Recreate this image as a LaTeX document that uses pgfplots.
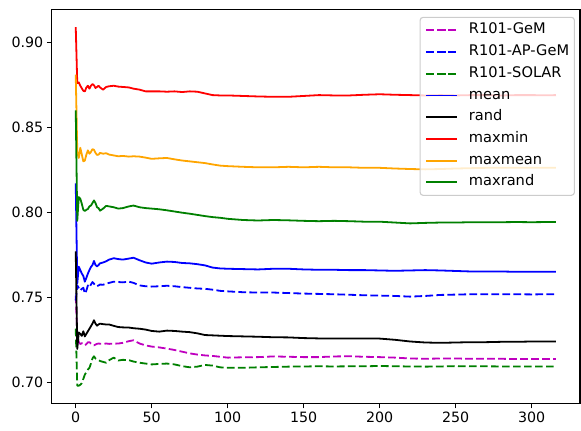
\documentclass[border=0pt]{standalone}
\usepackage{pgfplots}
\pgfplotsset{compat=1.18}
\usepackage{fontspec}
\setmainfont{DejaVu Sans}
\definecolor{mplm}{rgb}{0.75,0,0.75}
\definecolor{mplb}{rgb}{0,0,1}
\definecolor{mplg}{rgb}{0,0.5,0}
\definecolor{mplr}{rgb}{1,0,0}
\definecolor{mplo}{rgb}{1,0.647,0}
\definecolor{legedge}{rgb}{0.8,0.8,0.8}

\pgfplotstableread{
x r o g b bd k m gd
0 0.909 0.881 0.860 0.817 0.748 0.777 0.751 0.7316
1 0.876 0.836 0.795 0.758 0.757 0.7196 0.728 0.698
2 0.8765 0.832 0.809 0.768 0.7555 0.7293 0.7236 0.698
3 0.8745 0.838 0.808 0.766 0.7540 0.7285 0.7225 0.6985
4 0.873 0.834 0.805 0.764 0.7550 0.7273 0.7230 0.6995
5 0.8715 0.830 0.8015 0.7625 0.7556 0.7300 0.7225 0.7020
6 0.8712 0.8305 0.8008 0.7592 0.7522 0.7270 0.7217 0.7045
7 0.8735 0.834 0.8015 0.7615 0.7540 0.7285 0.7225 0.7060
8 0.8745 0.8365 0.802 0.7640 0.7570 0.7300 0.7235 0.7075
9 0.8728 0.8345 0.8035 0.7660 0.7560 0.7315 0.7236 0.7085
10 0.8745 0.8355 0.804 0.7678 0.7575 0.7330 0.7228 0.7110
11 0.8755 0.8372 0.8055 0.7690 0.7590 0.7345 0.7222 0.7140
12 0.8748 0.8368 0.807 0.7714 0.7580 0.7365 0.7217 0.7153
13 0.8732 0.8350 0.8055 0.7690 0.7568 0.7345 0.7222 0.7140
14 0.8738 0.8338 0.803 0.7682 0.7565 0.7333 0.7226 0.7135
15 0.8745 0.8340 0.8025 0.7690 0.7570 0.7340 0.7228 0.7130
16 0.8735 0.8350 0.8010 0.7700 0.7575 0.7345 0.7227 0.7125
18 0.8722 0.8345 0.8022 0.7705 0.7574 0.7342 0.7226 0.7120
20 0.8738 0.8348 0.8038 0.7712 0.7580 0.7340 0.7228 0.7115
22 0.8742 0.8340 0.8035 0.7722 0.7585 0.7340 0.7226 0.7130
25 0.8745 0.8335 0.8030 0.7730 0.7592 0.7332 0.7227 0.7145
28 0.8740 0.8330 0.8022 0.7725 0.7590 0.7325 0.7228 0.7128
31 0.8738 0.8332 0.8025 0.7722 0.7588 0.7323 0.7232 0.7132
35 0.8735 0.8328 0.8035 0.7728 0.7592 0.7322 0.7242 0.7130
38 0.8728 0.8330 0.8040 0.7733 0.7585 0.7318 0.7247 0.7122
42 0.8722 0.8328 0.8030 0.7718 0.7570 0.7315 0.7228 0.7115
46 0.8712 0.8322 0.8025 0.7705 0.7565 0.7310 0.7217 0.7110
50 0.8712 0.8315 0.8022 0.7698 0.7563 0.7302 0.7210 0.7105
55 0.8712 0.8318 0.8018 0.7705 0.7565 0.7298 0.7205 0.7108
60 0.8710 0.8320 0.8012 0.7710 0.7568 0.7304 0.7198 0.7110
65 0.8712 0.8312 0.8005 0.7708 0.7565 0.7302 0.7190 0.7105
70 0.8708 0.8305 0.7998 0.7702 0.7560 0.7298 0.7180 0.7095
75 0.8712 0.8300 0.7992 0.7700 0.7556 0.7295 0.7170 0.7088
80 0.8710 0.8295 0.7985 0.7695 0.7552 0.7288 0.7163 0.7092
85 0.8700 0.8290 0.7978 0.7688 0.7550 0.7278 0.7158 0.7102
90 0.8690 0.8282 0.7972 0.7675 0.7545 0.7276 0.7155 0.7098
95 0.8688 0.8275 0.7968 0.7670 0.7538 0.7274 0.7150 0.7088
100 0.8688 0.8272 0.7962 0.7668 0.7535 0.7272 0.7145 0.7085
110 0.8685 0.8268 0.7955 0.7666 0.7530 0.7270 0.7147 0.7085
120 0.8682 0.8265 0.7952 0.7664 0.7528 0.7268 0.7148 0.7088
130 0.8680 0.8265 0.7955 0.7668 0.7528 0.7265 0.7152 0.7090
140 0.8680 0.8268 0.7953 0.7668 0.7525 0.7264 0.7150 0.7092
150 0.8685 0.8265 0.7950 0.7664 0.7522 0.7260 0.7148 0.7093
160 0.8690 0.8268 0.7948 0.7662 0.7520 0.7258 0.7148 0.7094
170 0.8688 0.8265 0.7950 0.7662 0.7518 0.7258 0.7152 0.7093
180 0.8688 0.8265 0.7948 0.7660 0.7515 0.7257 0.7153 0.7094
190 0.8692 0.8262 0.7945 0.7660 0.7512 0.7258 0.7150 0.7094
200 0.8695 0.8262 0.7945 0.7658 0.7510 0.7257 0.7148 0.7096
210 0.8692 0.8258 0.7940 0.7656 0.7508 0.7250 0.7145 0.7094
220 0.8690 0.8255 0.7935 0.7658 0.7504 0.7240 0.7140 0.7093
230 0.8688 0.8253 0.7938 0.7660 0.7508 0.7234 0.7138 0.7092
240 0.8690 0.8255 0.7940 0.7658 0.7514 0.7232 0.7140 0.7093
250 0.8688 0.8258 0.7940 0.7655 0.7516 0.7234 0.7140 0.7095
260 0.8690 0.8260 0.7942 0.7652 0.7518 0.7236 0.7138 0.7094
270 0.8690 0.8262 0.7942 0.7652 0.7518 0.7236 0.7138 0.7094
280 0.8688 0.8262 0.7942 0.7652 0.7518 0.7238 0.7138 0.7093
290 0.8690 0.8263 0.7943 0.7650 0.7518 0.7238 0.7137 0.7093
300 0.8690 0.8262 0.7942 0.7650 0.7517 0.7240 0.7137 0.7093
310 0.8689 0.8263 0.7943 0.7650 0.7518 0.7240 0.7137 0.7093
316 0.8690 0.8263 0.7943 0.7650 0.7518 0.7240 0.7137 0.7093
}\datatable

\begin{document}
\begin{tikzpicture}
\begin{axis}[
  scale only axis,
  width=528pt, height=394pt,
  xmin=-15.8, xmax=331.8,
  ymin=0.6875, ymax=0.9195,
  xtick={0,50,100,150,200,250,300},
  ytick={0.70,0.75,0.80,0.85,0.90},
  /pgf/number format/assume math mode=true,
  yticklabel style={/pgf/number format/fixed, /pgf/number format/fixed zerofill, /pgf/number format/precision=2},
  tick label style={font=\fontsize{14.2}{17}\selectfont},
  xtick pos=left, ytick pos=left,
  tick align=outside,
  major tick length=4.9pt,
  tick style={black, line width=1.1pt},
  axis line style={black, line width=1.1pt},
  legend cell align=left,
  legend style={
    at={(0.9905,0.981)}, anchor=north east,
    font=\fontsize{14.6}{17}\selectfont,
    draw=legedge, line width=1.1pt, rounded corners=3pt,
    fill=white, fill opacity=0.8, text opacity=1,
    row sep=7.1pt, column sep=11pt, inner xsep=5.3pt, inner ysep=5.7pt,
    nodes={inner xsep=0pt, inner ysep=0pt, text height=10.9pt, text depth=3.7pt},
  },
  legend image code/.code={\draw[#1, line width=1.8pt] plot coordinates {(0pt,0pt) (15.35pt,0pt) (30.7pt,0pt)};},
  every axis plot/.append style={line width=1.8pt, line join=round},
]
\addplot[mplm, dash pattern=on 7.7pt off 3.3pt] table[x=x,y=m] {\datatable};
\addlegendentry{R101-GeM}
\addplot[mplb, dash pattern=on 7.7pt off 3.3pt] table[x=x,y=bd] {\datatable};
\addlegendentry{R101-AP-GeM}
\addplot[mplg, dash pattern=on 7.7pt off 3.3pt] table[x=x,y=gd] {\datatable};
\addlegendentry{R101-SOLAR}
\addplot[color=mplb, solid] table[x=x,y=b] {\datatable};
\addlegendentry{mean}
\addplot[color=black, solid] table[x=x,y=k] {\datatable};
\addlegendentry{rand}
\addplot[color=mplr, solid] table[x=x,y=r] {\datatable};
\addlegendentry{maxmin}
\addplot[color=mplo, solid] table[x=x,y=o] {\datatable};
\addlegendentry{maxmean}
\addplot[color=mplg, solid] table[x=x,y=g] {\datatable};
\addlegendentry{maxrand}
\end{axis}
\path ([xshift=-51.7pt,yshift=-26.7pt]current axis.south west) rectangle ([xshift=1pt,yshift=9.3pt]current axis.north east);
\end{tikzpicture}
\end{document}
